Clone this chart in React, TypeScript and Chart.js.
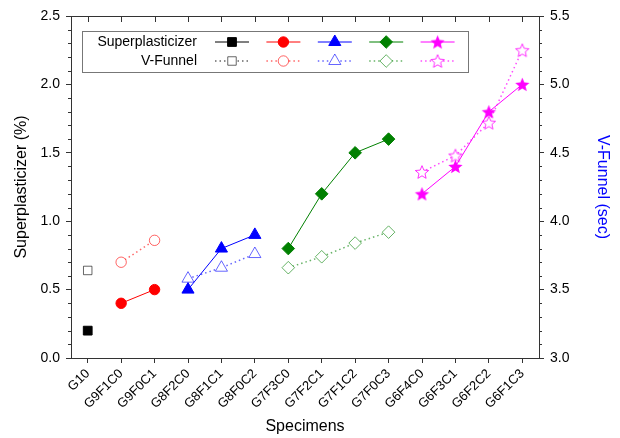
import React, { useEffect, useRef } from 'react';
import { Chart, registerables } from 'chart.js';
import { drawPoint } from 'chart.js/helpers';

Chart.register(...registerables);

// ---------- data ----------
const specimens = [
  'G10', 'G9F1C0', 'G9F0C1', 'G8F2C0', 'G8F1C1', 'G8F0C2', 'G7F3C0',
  'G7F2C1', 'G7F1C2', 'G7F0C3', 'G6F4C0', 'G6F3C1', 'G6F2C2', 'G6F1C3',
];

const g10Labels = ['G10'];
const g9Labels = ['G9F1C0', 'G9F0C1'];
const g8Labels = ['G8F2C0', 'G8F1C1', 'G8F0C2'];
const g7Labels = ['G7F3C0', 'G7F2C1', 'G7F1C2', 'G7F0C3'];
const g6Labels = ['G6F4C0', 'G6F3C1', 'G6F2C2', 'G6F1C3'];

// Superplasticizer (%)
const spG10 = [0.2];
const spG9 = [0.4, 0.5];
const spG8 = [0.5, 0.8, 0.9];
const spG7 = [0.8, 1.2, 1.5, 1.6];
const spG6 = [1.2, 1.4, 1.8, 2.0];

// V-Funnel (sec)
const vfG10 = [3.64];
const vfG9 = [3.7, 3.86];
const vfG8 = [3.58, 3.66, 3.76];
const vfG7 = [3.66, 3.74, 3.84, 3.92];
const vfG6 = [4.36, 4.48, 4.72, 5.25];

const leftRange = [0, 2.5];
const rightRange = [3, 5.5];

// ---------- styles ----------
const FONT = '"Liberation Sans", Arial, Helvetica, sans-serif';
const AXIS = '#333333';
const solidColors = ['#000000', '#FF0000', '#0000FF', '#008000', '#FF00FF'];
const openColors = [
  'rgba(0,0,0,0.6)',
  'rgba(255,0,0,0.6)',
  'rgba(0,0,255,0.6)',
  'rgba(0,128,0,0.6)',
  'rgba(255,0,255,0.7)',
];

function makeStar(color: string, filled: boolean, R: number): HTMLCanvasElement {
  const size = Math.ceil(R * 2 + 4);
  const c = document.createElement('canvas');
  c.width = size;
  c.height = size;
  const ctx = c.getContext('2d')!;
  const cx = size / 2;
  const cy = size / 2 + R * 0.095;
  const r = R * 0.45;
  ctx.beginPath();
  for (let i = 0; i < 10; i++) {
    const ang = -Math.PI / 2 + (i * Math.PI) / 5;
    const rad = i % 2 === 0 ? R : r;
    const x = cx + rad * Math.cos(ang);
    const y = cy + rad * Math.sin(ang);
    if (i === 0) ctx.moveTo(x, y);
    else ctx.lineTo(x, y);
  }
  ctx.closePath();
  if (filled) {
    ctx.fillStyle = color;
    ctx.fill();
  } else {
    ctx.fillStyle = '#ffffff';
    ctx.fill();
    ctx.strokeStyle = color;
    ctx.lineWidth = 1;
    ctx.stroke();
  }
  return c;
}

const framePlugin = {
  id: 'frameTicks',
  afterDraw(chart: any) {
    const { ctx, chartArea: a, scales } = chart;
    ctx.save();
    ctx.strokeStyle = AXIS;
    ctx.lineWidth = 1;
    ctx.beginPath();
    const top = Math.round(a.top) + 0.5;
    ctx.moveTo(a.left, top);
    ctx.lineTo(a.right + 0.5, top);
    specimens.forEach((_, i) => {
      const x = Math.round(scales.x.getPixelForTick(i)) + 0.5;
      ctx.moveTo(x, a.top);
      ctx.lineTo(x, a.top + 6);
    });
    for (let k = 1; k < 25; k++) {
      if (k % 5 === 0) continue;
      const yl = Math.round(scales.y.getPixelForValue(leftRange[0] + k / 10)) + 0.5;
      ctx.moveTo(a.left - 3, yl);
      ctx.lineTo(a.left, yl);
      const yr = Math.round(scales.y2.getPixelForValue(rightRange[0] + k / 10)) + 0.5;
      ctx.moveTo(a.right, yr);
      ctx.lineTo(a.right + 3, yr);
    }
    ctx.stroke();
    ctx.restore();
  },
};

const legendPlugin = {
  id: 'customLegend',
  afterDraw(chart: any) {
    const { ctx, chartArea: a } = chart;
    const x0 = Math.round(a.left) + 11;
    const y0 = Math.round(a.top) + 15;
    const w = 386;
    const h = 41;
    ctx.save();
    ctx.strokeStyle = '#777777';
    ctx.lineWidth = 1;
    ctx.strokeRect(x0 + 0.5, y0 + 0.5, w, h);
    ctx.font = `14px ${FONT}`;
    ctx.fillStyle = '#000';
    ctx.textAlign = 'right';
    ctx.textBaseline = 'middle';
    const rows = [y0 + 11, y0 + 30];
    ctx.fillText('Superplasticizer', x0 + 115, rows[0]);
    ctx.fillText('V-Funnel', x0 + 115, rows[1]);
    const ds = chart.data.datasets;
    for (let i = 0; i < 5; i++) {
      const cx = x0 + 150 + i * 51.4;
      [ds[i], ds[i + 5]].forEach((d: any, r: number) => {
        const y = rows[r];
        ctx.save();
        ctx.strokeStyle = d.borderColor;
        ctx.lineWidth = d.borderWidth;
        ctx.setLineDash(d.borderDash || []);
        ctx.beginPath();
        ctx.moveTo(cx - 17, y);
        ctx.lineTo(cx + 17, y);
        ctx.stroke();
        ctx.setLineDash([]);
        ctx.fillStyle = d.pointBackgroundColor;
        ctx.strokeStyle = d.pointBorderColor;
        ctx.lineWidth = d.pointBorderWidth;
        drawPoint(ctx, {
          pointStyle: d.pointStyle,
          radius: d.pointRadius,
          rotation: 0,
          borderWidth: d.pointBorderWidth,
        }, cx, y);
        ctx.restore();
      });
    }
    ctx.restore();
  },
};

export default function App() {
  const ref = useRef<HTMLCanvasElement | null>(null);

  useEffect(() => {
    if (!ref.current) return;
    const starFilled = makeStar('#FF00FF', true, 7.5);
    const starOpen = makeStar('rgba(255,0,255,0.8)', false, 7);

    const groupLabels = [g10Labels, g9Labels, g8Labels, g7Labels, g6Labels];
    const spGroups = [spG10, spG9, spG8, spG7, spG6];
    const vfGroups = [vfG10, vfG9, vfG8, vfG7, vfG6];
    const solidStyles: any[] = ['rect', 'circle', 'triangle', 'rectRot', starFilled];
    const openStyles: any[] = ['rect', 'circle', 'triangle', 'rectRot', starOpen];
    const solidRadii = [6.2, 5.2, 7, 6.3, 8];
    const openRadii = [6, 5.2, 7, 6.3, 8];

    const toPts = (labels: string[], vals: number[]) =>
      labels.map((l, i) => ({ x: l, y: vals[i] }));

    const spSets = spGroups.map((vals, i) => ({
      label: 'Superplasticizer',
      data: toPts(groupLabels[i], vals),
      yAxisID: 'y',
      borderColor: solidColors[i],
      backgroundColor: solidColors[i],
      borderWidth: 1,
      pointStyle: solidStyles[i],
      pointRadius: solidRadii[i],
      pointHoverRadius: solidRadii[i],
      pointBackgroundColor: solidColors[i],
      pointBorderColor: solidColors[i],
      pointBorderWidth: 1,
      tension: 0,
      fill: false,
      order: 1,
    }));
    const vfSets = vfGroups.map((vals, i) => ({
      label: 'V-Funnel',
      data: toPts(groupLabels[i], vals),
      yAxisID: 'y2',
      borderColor: openColors[i],
      backgroundColor: '#ffffff',
      borderWidth: 1.5,
      borderDash: [1.5, 3],
      pointStyle: openStyles[i],
      pointRadius: openRadii[i],
      pointHoverRadius: openRadii[i],
      pointBackgroundColor: '#ffffff',
      pointBorderColor: openColors[i],
      pointBorderWidth: 1,
      tension: 0,
      fill: false,
      order: 2,
    }));

    const tickFont = { family: FONT, size: 14 };
    const titleFont = { family: FONT, size: 16 };

    const chart = new Chart(ref.current, {
      type: 'line',
      data: { labels: specimens, datasets: [...spSets, ...vfSets] as any },
      options: {
        animation: false,
        responsive: false,
        maintainAspectRatio: false,
        events: [],
        layout: { padding: { top: 16, left: 0, right: 0, bottom: 0 } },
        plugins: {
          legend: { display: false },
          tooltip: { enabled: false },
          title: { display: false },
        },
        scales: {
          x: {
            type: 'category',
            offset: true,
            grid: { drawOnChartArea: false, drawTicks: true, tickLength: 5, color: AXIS, lineWidth: 1 },
            border: { display: true, color: AXIS, width: 1 },
            ticks: {
              autoSkip: false,
              maxRotation: 45,
              minRotation: 45,
              padding: 3,
              color: '#000',
              font: { family: FONT, size: 13 },
            },
            title: {
              display: true,
              text: 'Specimens',
              color: '#000',
              font: titleFont,
              padding: { top: 0, bottom: 2 },
            },
            afterFit: (s: any) => { s.height = 80; },
          },
          y: {
            position: 'left',
            min: leftRange[0],
            max: leftRange[1],
            grid: { drawOnChartArea: false, drawTicks: true, tickLength: 5, color: AXIS, lineWidth: 1 },
            border: { display: true, color: AXIS, width: 1 },
            ticks: {
              stepSize: 0.5,
              padding: 6,
              color: '#000',
              font: tickFont,
              callback: (v: any) => Number(v).toFixed(1),
            },
            title: {
              display: true,
              text: 'Superplasticizer (%)',
              color: '#000',
              font: titleFont,
              padding: { top: 12, bottom: 0 },
            },
            afterFit: (s: any) => { s.width = 71; },
          },
          y2: {
            position: 'right',
            min: rightRange[0],
            max: rightRange[1],
            grid: { drawOnChartArea: false, drawTicks: true, tickLength: 5, color: AXIS, lineWidth: 1 },
            border: { display: true, color: AXIS, width: 1 },
            ticks: {
              stepSize: 0.5,
              padding: 6,
              color: '#000',
              font: tickFont,
              callback: (v: any) => Number(v).toFixed(1),
            },
            title: {
              display: true,
              text: 'V-Funnel (sec)',
              color: '#0000FF',
              font: titleFont,
              padding: { top: 8, bottom: 0 },
            },
            afterFit: (s: any) => { s.width = 81; },
          },
        },
      } as any,
      plugins: [framePlugin, legendPlugin],
    });
    return () => chart.destroy();
  }, []);

  return (
    <div style={{ position: 'absolute', left: 0, top: 0, width: 620, height: 438, background: '#fff' }}>
      <canvas ref={ref} width={620} height={438} style={{ display: 'block', width: 620, height: 438 }} />
    </div>
  );
}
